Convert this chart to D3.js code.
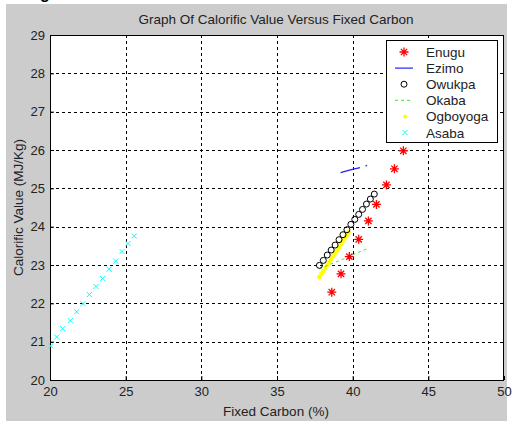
<!DOCTYPE html>
<html>
<head>
<meta charset="utf-8">
<script src="https://d3js.org/d3.v7.min.js"></script>
<style>
  body { margin: 0; background: white; }
  svg { display: block; font-family: "Liberation Sans", Arial, sans-serif; }
</style>
</head>
<body>
<svg></svg>
<script>
width = 512;
height = 421;

// data: [fixed carbon %, calorific value MJ/kg]
let enugu = [[38.62,22.29],[39.23,22.77],[39.78,23.22],[40.40,23.67],[41.04,24.15],
             [41.57,24.58],[42.23,25.09],[42.76,25.51],[43.35,25.98]];
let ezimo = [[39.20,25.41],[39.85,25.48],[40.49,25.54],null,[40.85,25.58],[40.95,25.60]];
let owukpa = [[37.80,22.99],[38.06,23.12],[38.32,23.26],[38.58,23.39],[38.84,23.52],
              [39.10,23.66],[39.36,23.79],[39.62,23.92],[39.88,24.06],[40.14,24.19],
              [40.40,24.32],[40.65,24.45],[40.91,24.59],[41.17,24.72],[41.43,24.85]];
let okaba = [[37.80,22.90],[38.60,23.03],[39.40,23.16],[40.20,23.30],[40.93,23.42]];
let ogboyoga = [[37.80,22.69],[37.93,22.77],[38.06,22.84],[38.19,22.92],[38.32,23.00],
                [38.44,23.07],[38.57,23.15],[38.70,23.23],[38.83,23.31],[38.96,23.38],
                [39.09,23.46],[39.22,23.54],[39.34,23.62],[39.47,23.69],[39.60,23.77],[39.72,23.85]];
let asaba = [[20.05,20.89],[20.44,21.12],[20.84,21.34],[21.34,21.55],[21.76,21.78],
             [22.18,21.99],[22.60,22.23],[23.04,22.44],[23.48,22.65],[23.90,22.89],
             [24.34,23.10],[24.76,23.35],[25.16,23.56],[25.57,23.76]];

let xTicks = [20, 25, 30, 35, 40, 45, 50];
let yTicks = [20, 21, 22, 23, 24, 25, 26, 27, 28, 29];
let legendNames = ["Enugu", "Ezimo", "Owukpa", "Okaba", "Ogboyoga", "Asaba"];

let svg = d3.select("svg").attr("width", width).attr("height", height);

// figure background
svg.append("rect").attr("x", 0).attr("y", 0).attr("width", width).attr("height", height).style("fill", "white");
svg.append("rect").attr("x", 6).attr("y", 4).attr("width", 501).attr("height", height - 4).style("fill", "#cccccc");
svg.append("text").attr("x", 40).attr("y", -1).style("font-size", "16px").style("font-weight", "bold").text("g");

let pLeft = 50, pRight = 504, pTop = 35, pBottom = 380;

let x = d3.scaleLinear().domain([20, 50]).range([pLeft, pRight]);
let y = d3.scaleLinear().domain([20, 29]).range([pBottom, pTop]);

svg.append("rect")
    .attr("x", pLeft).attr("y", pTop)
    .attr("width", pRight - pLeft).attr("height", pBottom - pTop)
    .style("fill", "white");

// grid
let grid = svg.append("g")
    .style("stroke", "black")
    .style("stroke-width", 1)
    .style("stroke-dasharray", "3,3");

grid.selectAll(".gx").data(xTicks.slice(1, -1)).enter().append("line")
    .attr("x1", d => Math.round(x(d)) + 0.5).attr("x2", d => Math.round(x(d)) + 0.5)
    .attr("y1", pBottom).attr("y2", pTop);

grid.selectAll(".gy").data(yTicks.slice(1, -1)).enter().append("line")
    .attr("y1", d => Math.round(y(d)) + 0.5).attr("y2", d => Math.round(y(d)) + 0.5)
    .attr("x1", pLeft).attr("x2", pRight);

// axes
let xAxis = svg.append("g")
    .attr("transform", "translate(0," + pBottom + ")")
    .call(d3.axisBottom(x).tickValues(xTicks).tickSize(-4).tickPadding(7));
let yAxis = svg.append("g")
    .attr("transform", "translate(" + pLeft + ",0)")
    .call(d3.axisLeft(y).tickValues(yTicks).tickSize(-4).tickPadding(5));

[xAxis, yAxis].forEach(a => {
    a.select(".domain").remove();
    a.selectAll("line").style("stroke", "black");
    a.selectAll("text").style("font-size", "13px").style("fill", "#222").style("font-family", "Liberation Sans, Arial, sans-serif");
});

svg.append("rect")
    .attr("x", pLeft + 0.5).attr("y", pTop + 0.5)
    .attr("width", pRight - pLeft - 1).attr("height", pBottom - pTop)
    .style("fill", "none")
    .style("stroke", "black");

// marker helpers
function star(g, cx, cy, r) {
    let p = "M" + (cx - r) + "," + cy + "H" + (cx + r) +
            "M" + cx + "," + (cy - r) + "V" + (cy + r) +
            "M" + (cx - r * 0.7) + "," + (cy - r * 0.7) + "L" + (cx + r * 0.7) + "," + (cy + r * 0.7) +
            "M" + (cx - r * 0.7) + "," + (cy + r * 0.7) + "L" + (cx + r * 0.7) + "," + (cy - r * 0.7);
    g.append("path").attr("d", p).style("stroke", "red").style("stroke-width", 1.3).style("fill", "none");
}
function cross(g, cx, cy, r) {
    let p = "M" + (cx - r) + "," + (cy - r) + "L" + (cx + r) + "," + (cy + r) +
            "M" + (cx - r) + "," + (cy + r) + "L" + (cx + r) + "," + (cy - r);
    g.append("path").attr("d", p).style("stroke", "#00ffff").style("stroke-width", 1).style("fill", "none");
}

let plot = svg.append("g");

let line = d3.line()
    .defined(d => d !== null)
    .x(d => x(d[0]))
    .y(d => y(d[1]));

// Ogboyoga yellow dots
plot.selectAll(".ogb").data(ogboyoga).enter().append("circle")
    .attr("cx", d => x(d[0])).attr("cy", d => y(d[1]))
    .attr("r", 2.3)
    .style("fill", "#ffff00");

// Okaba green dashed
plot.append("path")
    .attr("d", line(okaba))
    .style("fill", "none")
    .style("stroke", "#33ee33")
    .style("stroke-width", 1)
    .style("stroke-dasharray", "3,3");

// Owukpa black circles
plot.selectAll(".owu").data(owukpa).enter().append("circle")
    .attr("cx", d => x(d[0])).attr("cy", d => y(d[1]))
    .attr("r", 3)
    .style("fill", "none")
    .style("stroke", "black")
    .style("stroke-width", 1);

// Ezimo blue line
plot.append("path")
    .attr("d", line(ezimo))
    .style("fill", "none")
    .style("stroke", "#2020ff")
    .style("stroke-width", 1.2);

enugu.forEach(d => star(plot, x(d[0]), y(d[1]), 4.5));
asaba.forEach(d => cross(plot, x(d[0]), y(d[1]), 2.5));

// legend
let legend = svg.append("g");
legend.append("rect")
    .attr("x", 386.5).attr("y", 40.5)
    .attr("width", 111).attr("height", 102)
    .style("fill", "white")
    .style("stroke", "black");

let ly = d => 52 + d * 16.1;
legendNames.forEach((name, i) => {
    legend.append("text")
        .attr("x", 426).attr("y", ly(i) + 5)
        .style("font-size", "13.5px")
        .style("fill", "#222")
        .text(name);
});
star(legend, 404, ly(0), 4.5);
legend.append("line").attr("x1", 395).attr("x2", 413).attr("y1", ly(1)).attr("y2", ly(1))
    .style("stroke", "#2020ff").style("stroke-width", 1.2);
legend.append("circle").attr("cx", 404).attr("cy", ly(2)).attr("r", 3)
    .style("fill", "none").style("stroke", "black");
legend.append("line").attr("x1", 395).attr("x2", 413).attr("y1", ly(3)).attr("y2", ly(3))
    .style("stroke", "#33ee33").style("stroke-dasharray", "3,3");
legend.append("circle").attr("cx", 405).attr("cy", ly(4)).attr("r", 2)
    .style("fill", "#ffff00");
cross(legend, 405, ly(5), 2.5);

// title and axis labels
svg.append("text")
    .attr("x", 276).attr("y", 24)
    .attr("text-anchor", "middle")
    .style("font-size", "13.5px")
    .style("fill", "#222")
    .text("Graph Of Calorific Value Versus Fixed Carbon");

svg.append("text")
    .attr("x", 276).attr("y", 416)
    .attr("text-anchor", "middle")
    .style("font-size", "13.5px")
    .style("fill", "#222")
    .text("Fixed Carbon (%)");

svg.append("text")
    .attr("transform", "translate(23," + ((pTop + pBottom) / 2) + ") rotate(-90)")
    .attr("text-anchor", "middle")
    .style("font-size", "13.5px")
    .style("fill", "#222")
    .text("Calorific Value (MJ/Kg)");
</script>
</body>
</html>
